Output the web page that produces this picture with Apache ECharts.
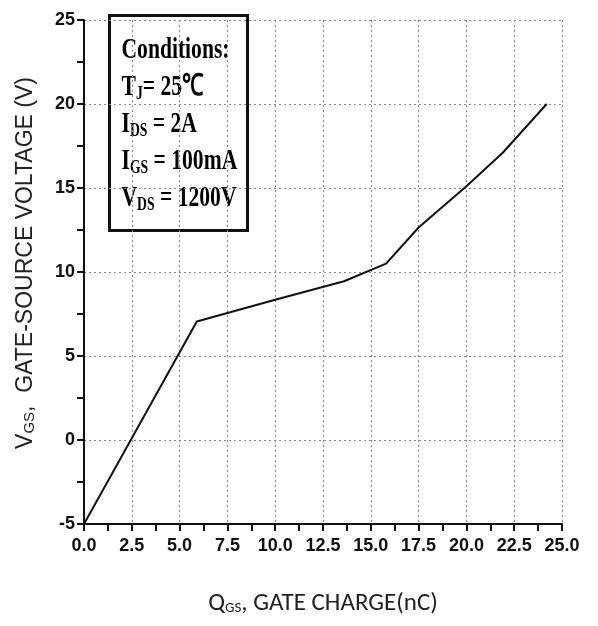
<!DOCTYPE html>
<html>
<head>
<meta charset="utf-8">
<title>Gate charge</title>
<script src="https://cdn.jsdelivr.net/npm/echarts@6/dist/echarts.min.js"></script>
<style>
    html, body {
        margin: 0;
        padding: 0;
        background: #fff;
    }

    #chart {
        width: 598px;
        height: 626px;
    }
</style>
</head>
<body>
<div id="chart"></div>
<script>
// gate charge Qgs (nC) vs gate-source voltage Vgs (V)
const qgs = [0, 5.9, 10.0, 13.6, 15.8, 17.5, 20.0, 21.9, 24.2]
const vgs = [-5, 7.05, 8.35, 9.45, 10.5, 12.65, 15.1, 17.1, 20.0]

const xTicks = [0, 2.5, 5, 7.5, 10, 12.5, 15, 17.5, 20, 22.5, 25]
const yTicks = [-5, 0, 5, 10, 15, 20, 25]

const conditions = [
    '{b|Conditions:}',
    '{b|T}{s|J}{b|= 25℃}',
    '{b|I}{s|DS}{b| = 2A}',
    '{b|I}{s|GS}{b| = 100mA}',
    '{b|V}{s|DS}{b| = 1200V}'
]

const chart = echarts.init(document.getElementById('chart'))

const tickFont = {
    color: '#111',
    fontSize: 18,
    fontWeight: 'bold',
    fontFamily: '"Liberation Sans", Arial, sans-serif'
}

const serif = '"Liberation Serif", "Times New Roman", serif'
const serifRich = {
    b: {
        fontFamily: serif,
        fontWeight: 'bold',
        fontSize: 30,
        lineHeight: 37,
        color: '#111'
    },
    s: {
        fontFamily: serif,
        fontWeight: 'bold',
        fontSize: 19,
        lineHeight: 19,
        padding: [14, 0, 0, 0],
        color: '#111'
    }
}

const option = {
    animation: false,
    grid: {
        left: 84,
        right: 36,
        top: 20,
        bottom: 102
    },
    xAxis: {
        type: 'value',
        min: 0,
        max: 25,
        interval: 2.5,
        name: '{m|Q}{s|GS}{m|, GATE CHARGE(nC)}',
        nameLocation: 'middle',
        nameGap: 67,
        nameTextStyle: {
            rich: {
                m: { fontSize: 25, color: '#222', fontFamily: 'Carlito, Lato, sans-serif' },
                s: { fontSize: 15, color: '#222', fontFamily: 'Carlito, Lato, sans-serif', lineHeight: 15, padding: [10, 0, 0, 0] }
            }
        },
        axisLine: { onZero: false, lineStyle: { color: '#111', width: 2 } },
        axisTick: { show: true, inside: false, length: 7, lineStyle: { color: '#111', width: 2 } },
        minorTick: { show: true, splitNumber: 2, length: 7, lineStyle: { color: '#111', width: 2 } },
        axisLabel: {
            ...tickFont,
            margin: 13,
            formatter: (v) => v.toFixed(1)
        },
        splitLine: {
            show: true,
            lineStyle: { color: '#888', type: [2, 3], width: 1 }
        }
    },
    yAxis: {
        type: 'value',
        min: -5,
        max: 25,
        interval: 5,
        name: '{m|V}{s|GS}{m|,  GATE-SOURCE VOLTAGE (V)}',
        nameLocation: 'middle',
        nameGap: 47,
        nameTextStyle: {
            padding: [0, 0, 0, 18],
            rich: {
                m: { fontSize: 23, color: '#222', fontFamily: '"Liberation Sans", Arial, sans-serif' },
                s: { fontSize: 15, color: '#222', fontFamily: '"Liberation Sans", Arial, sans-serif', lineHeight: 15, padding: [9, 0, 0, 0] }
            }
        },
        axisLine: { onZero: false, lineStyle: { color: '#111', width: 2 } },
        axisTick: { show: true, inside: false, length: 7, lineStyle: { color: '#111', width: 2 } },
        minorTick: { show: true, splitNumber: 2, length: 7, lineStyle: { color: '#111', width: 2 } },
        axisLabel: {
            ...tickFont,
            margin: 9
        },
        splitLine: {
            show: true,
            lineStyle: { color: '#888', type: [2, 3], width: 1 }
        }
    },
    graphic: [
        {
            type: 'group',
            left: 108,
            top: 14,
            children: [
                {
                    type: 'rect',
                    shape: { x: 0, y: 0, width: 138, height: 215 },
                    style: { fill: '#fff', stroke: '#111', lineWidth: 3 }
                },
                {
                    type: 'text',
                    x: 12,
                    y: 16,
                    scaleX: 0.72,
                    style: {
                        text: conditions.join('\n'),
                        rich: serifRich
                    }
                }
            ]
        }
    ],
    series: [
        {
            type: 'line',
            data: qgs.map((q, i) => [q, vgs[i]]),
            symbol: 'none',
            smooth: false,
            lineStyle: { color: '#111', width: 2 }
        }
    ]
}

chart.setOption(option)
</script>
</body>
</html>
